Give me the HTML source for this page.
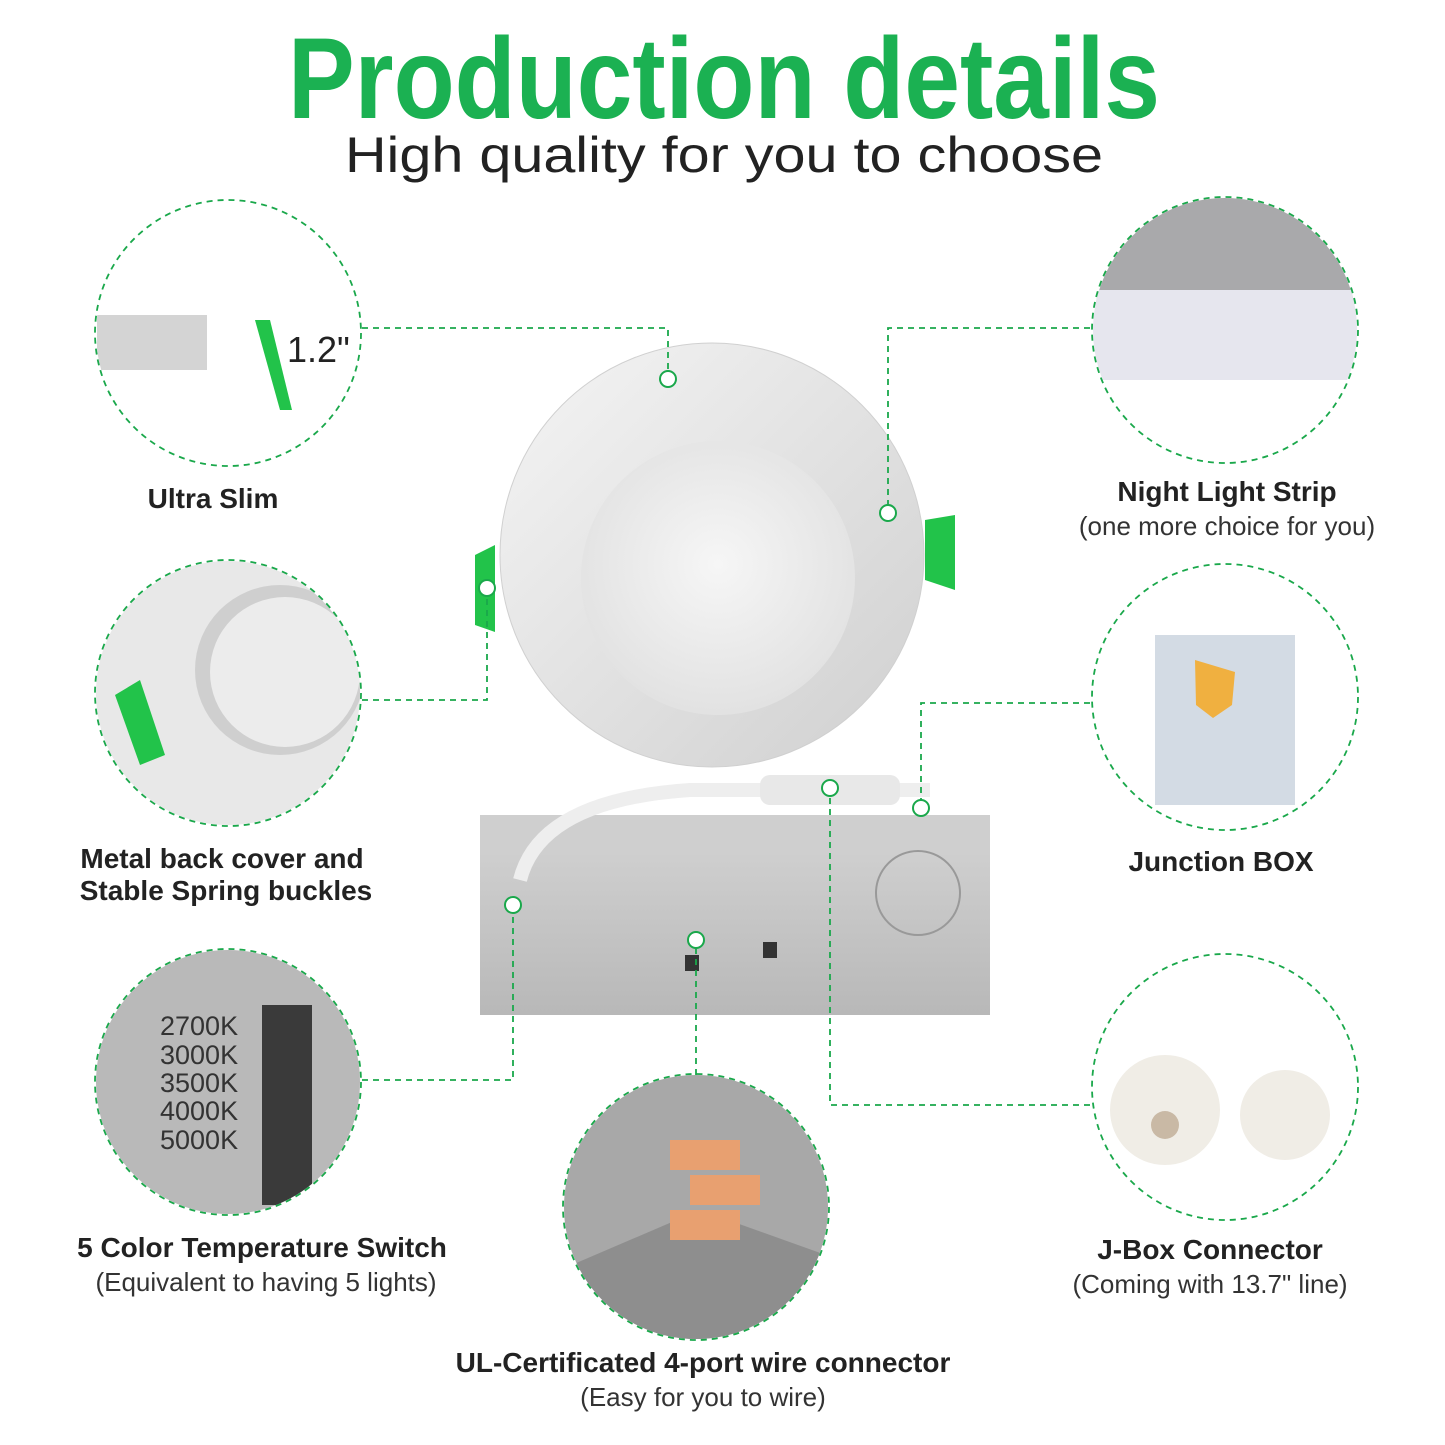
<!DOCTYPE html>
<html><head><style>
html,body{margin:0;padding:0;background:#fff;}
svg{display:block;}
text{font-family:"Liberation Sans",sans-serif;}
</style></head><body>
<svg width="1445" height="1445" viewBox="0 0 1445 1445" xmlns="http://www.w3.org/2000/svg">
<defs>
<radialGradient id="panel" cx="0.5" cy="0.45" r="0.6"><stop offset="0" stop-color="#f6f6f6"/><stop offset="1" stop-color="#e0e0e0"/></radialGradient>
<linearGradient id="rim" x1="0" y1="0" x2="1" y2="1"><stop offset="0" stop-color="#f5f5f5"/><stop offset="1" stop-color="#cfcfcf"/></linearGradient>
<linearGradient id="box" x1="0" y1="0" x2="0" y2="1"><stop offset="0" stop-color="#d4d4d4"/><stop offset="1" stop-color="#b8b8b8"/></linearGradient>
<clipPath id="c1"><circle cx="228" cy="333" r="132"/></clipPath>
<clipPath id="c2"><circle cx="1225" cy="330" r="132"/></clipPath>
<clipPath id="c3"><circle cx="228" cy="693" r="132"/></clipPath>
<clipPath id="c4"><circle cx="1225" cy="697" r="132"/></clipPath>
<clipPath id="c5"><circle cx="228" cy="1082" r="132"/></clipPath>
<clipPath id="c6"><circle cx="1225" cy="1087" r="132"/></clipPath>
<clipPath id="c7"><circle cx="696" cy="1207" r="132"/></clipPath>
</defs>
<text x="288" y="118" font-size="115" font-weight="bold" fill="#1bb152" textLength="872" lengthAdjust="spacingAndGlyphs">Production details</text>
<text x="345" y="172" font-size="50" fill="#222" textLength="758" lengthAdjust="spacingAndGlyphs">High quality for you to choose</text>

<!-- center lamp -->
<rect x="480" y="815" width="510" height="200" fill="url(#box)"/>
<rect x="480" y="815" width="510" height="40" fill="#cfcfcf"/>
<circle cx="918" cy="893" r="42" fill="none" stroke="#999" stroke-width="2"/>
<rect x="685" y="955" width="14" height="16" fill="#333"/>
<rect x="763" y="942" width="14" height="16" fill="#333"/>
<circle cx="712" cy="555" r="212" fill="url(#rim)" stroke="#d0d0d0"/>
<circle cx="718" cy="578" r="137" fill="url(#panel)"/>
<polygon points="475,555 495,545 495,632 475,625" fill="#22c34a"/>
<polygon points="925,520 955,515 955,590 925,580" fill="#22c34a"/>
<path d="M520 880 Q540 800 690 790 L930 790" stroke="#eee" stroke-width="14" fill="none"/>
<rect x="760" y="775" width="140" height="30" rx="10" fill="#e8e8e8"/>

<!-- circle contents -->
<g clip-path="url(#c1)"><rect x="97" y="315" width="110" height="55" fill="#d4d4d4"/><polygon points="255,320 270,320 292,410 280,410" fill="#22c34a"/></g>
<text x="287" y="362" font-size="36" fill="#222">1.2"</text>
<g clip-path="url(#c2)"><rect x="1090" y="195" width="270" height="110" fill="#a9a9ab"/><rect x="1090" y="290" width="270" height="90" fill="#e6e6ee"/></g>
<g clip-path="url(#c3)"><rect x="95" y="560" width="270" height="270" fill="#e8e8e8"/><circle cx="280" cy="670" r="85" fill="#cfcfcf"/><circle cx="285" cy="672" r="75" fill="#ececec"/><polygon points="115,695 140,680 165,755 140,765" fill="#22c34a"/></g>
<g clip-path="url(#c4)"><rect x="1155" y="635" width="140" height="170" fill="#d3dbe4"/><path d="M1195 660 L1235 672 L1232 705 L1213 718 L1196 705 Z" fill="#f0b040"/></g>
<g clip-path="url(#c5)"><rect x="95" y="950" width="270" height="270" fill="#b9b9b9"/><rect x="262" y="1005" width="50" height="200" fill="#3a3a3a"/></g>
<g font-size="27" fill="#333"><text x="160" y="1035">2700K</text><text x="160" y="1064">3000K</text><text x="160" y="1092">3500K</text><text x="160" y="1120">4000K</text><text x="160" y="1149">5000K</text></g>
<g clip-path="url(#c6)"><circle cx="1165" cy="1110" r="55" fill="#f0ede6"/><circle cx="1285" cy="1115" r="45" fill="#f0ede6"/><circle cx="1165" cy="1125" r="14" fill="#c9b9a5"/></g>
<g clip-path="url(#c7)"><rect x="560" y="1070" width="280" height="280" fill="#a8a8a8"/><polygon points="560,1270 700,1210 840,1260 840,1350 560,1350" fill="#8e8e8e"/><rect x="670" y="1140" width="70" height="30" fill="#e8a070"/><rect x="690" y="1175" width="70" height="30" fill="#e8a070"/><rect x="670" y="1210" width="70" height="30" fill="#e8a070"/></g>

<g fill="none" stroke="#1aa84b" stroke-width="1.8" stroke-dasharray="6,5">
<circle cx="228" cy="333" r="133"/>
<circle cx="1225" cy="330" r="133"/>
<circle cx="228" cy="693" r="133"/>
<circle cx="1225" cy="697" r="133"/>
<circle cx="228" cy="1082" r="133"/>
<circle cx="1225" cy="1087" r="133"/>
<circle cx="696" cy="1207" r="133"/>
<polyline points="362,328 668,328 668,372"/>
<polyline points="1090,328 888,328 888,507"/>
<polyline points="362,700 487,700 487,594"/>
<polyline points="1090,703 921,703 921,802"/>
<polyline points="362,1080 513,1080 513,911"/>
<polyline points="696,1075 696,946"/>
<polyline points="1090,1105 830,1105 830,794"/>
</g>
<g fill="#fff" stroke="#1aa84b" stroke-width="2">
<circle cx="668" cy="379" r="8"/><circle cx="888" cy="513" r="8"/><circle cx="487" cy="588" r="8"/>
<circle cx="921" cy="808" r="8"/><circle cx="513" cy="905" r="8"/><circle cx="696" cy="940" r="8"/><circle cx="830" cy="788" r="8"/>
</g>

<g font-size="28" font-weight="bold" fill="#222" text-anchor="middle">
<text x="213" y="508">Ultra Slim</text>
<text x="1227" y="501">Night Light Strip</text>
<text x="222" y="868">Metal back cover and</text>
<text x="226" y="900">Stable Spring buckles</text>
<text x="1221" y="871">Junction BOX</text>
<text x="262" y="1257">5 Color Temperature Switch</text>
<text x="1210" y="1259">J-Box Connector</text>
<text x="703" y="1372">UL-Certificated 4-port wire connector</text>
</g>
<g font-size="26" fill="#333" text-anchor="middle">
<text x="1227" y="535">(one more choice for you)</text>
<text x="266" y="1291">(Equivalent to having 5 lights)</text>
<text x="1210" y="1293">(Coming with 13.7" line)</text>
<text x="703" y="1406">(Easy for you to wire)</text>
</g>
</svg>
</body></html>
